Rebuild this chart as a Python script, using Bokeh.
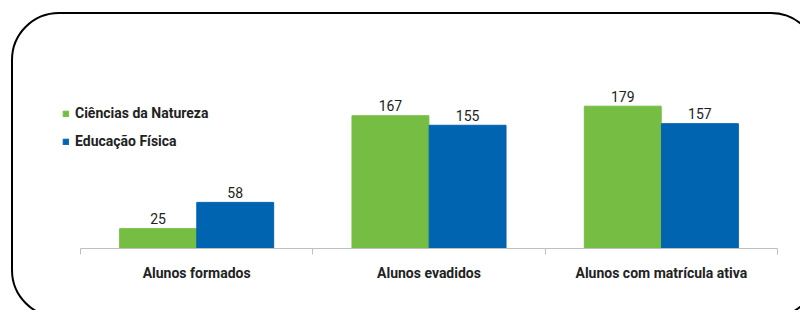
from bokeh.plotting import figure
from bokeh.models import (Range1d, FixedTicker, Legend, LegendItem,
                          ColumnDataSource, InlineStyleSheet)
from bokeh.core.properties import value
from bokeh.embed import file_html
from bokeh.resources import INLINE

categories = ["Alunos formados", "Alunos evadidos", "Alunos com matrícula ativa"]
ciencias = [25, 167, 179]
edfisica = [58, 155, 157]
series_names = ["Ciências da Natureza", "Educação Física"]
colors = ["#76BE43", "#0064B1"]

FONT = "Roboto"

n = len(categories)
centers = [i + 0.5 for i in range(n)]
bounds = [float(i) for i in range(n + 1)]
bw = 0.331
off = 0.166

# layout (pixels inside the figure)
W, H = 800, 310
frame_left, axis_left, axis_right = 40, 80, 777
frame_top, frame_bottom = 30, 248
px_per_unit = (axis_right - axis_left) / n
x_start = -(axis_left - frame_left) / px_per_unit
y_end = (frame_bottom - frame_top) / 0.795

src = ColumnDataSource(dict(cat=categories, xc=centers,
                            x1=[c - off for c in centers], x2=[c + off for c in centers],
                            cn=ciencias, ef=edfisica,
                            cn_t=[str(v) for v in ciencias], ef_t=[str(v) for v in edfisica]))

p = figure(width=W, height=H, output_backend="svg", toolbar_location=None,
           x_range=Range1d(x_start, n), y_range=Range1d(0, y_end),
           y_axis_location=None,
           min_border_left=frame_left, min_border_right=W - axis_right,
           min_border_top=frame_top, min_border_bottom=H - frame_bottom)
p.outline_line_color = None
p.xgrid.visible = False
p.ygrid.visible = False
p.background_fill_color = "white"
p.border_fill_color = "white"

r1 = p.vbar(x="x1", top="cn", width=bw, source=src,
            fill_color=colors[0], line_color=colors[0])
r2 = p.vbar(x="x2", top="ef", width=bw, source=src,
            fill_color=colors[1], line_color=colors[1])

for xcol, ycol, tcol in (("x1", "cn", "cn_t"), ("x2", "ef", "ef_t")):
    p.text(x=xcol, y=ycol, text=tcol, source=src,
           text_align="center", text_baseline="alphabetic", y_offset=-10,
           text_font=value(FONT), text_font_size="14px", text_color="#222222")

ax = p.xaxis[0]
ax.bounds = (0, n)
ax.ticker = FixedTicker(ticks=centers, minor_ticks=bounds)
ax.major_label_overrides = {c: lab for c, lab in zip(centers, categories)}
ax.axis_line_color = "#BFBFBF"
ax.axis_line_width = 1
ax.major_tick_line_color = None
ax.major_tick_out = 0
ax.major_tick_in = 0
ax.minor_tick_line_color = "#BFBFBF"
ax.minor_tick_out = 6
ax.minor_tick_in = 0
ax.major_label_standoff = 10
ax.major_label_text_font = FONT
ax.major_label_text_font_style = "bold"
ax.major_label_text_font_size = "14px"
ax.major_label_text_color = "#222222"

legend = Legend(items=[LegendItem(label=series_names[0], renderers=[r1]),
                       LegendItem(label=series_names[1], renderers=[r2])],
                location=(62 - frame_left, 97), orientation="vertical")
legend.border_line_color = None
legend.background_fill_alpha = 0
legend.padding = 0
legend.margin = 0
legend.spacing = 8
legend.glyph_width = 7
legend.glyph_height = 7
legend.label_height = 20
legend.label_standoff = 6
legend.label_text_font = FONT
legend.label_text_font_style = "bold"
legend.label_text_font_size = "14px"
legend.label_text_color = "#222222"
p.add_layout(legend)

# rounded outer frame of the picture (runs past the right and bottom edges)
p.stylesheets = [InlineStyleSheet(css="""
:host { position: relative; overflow: hidden; }
:host::after {
  content: ""; position: absolute; left: 11px; top: 12px; width: 808px; height: 306px;
  border: 2px solid #000; border-radius: 48px; box-sizing: border-box;
  pointer-events: none; z-index: 10;
}
""")]

open("out.html", "w").write(file_html(p, INLINE))
